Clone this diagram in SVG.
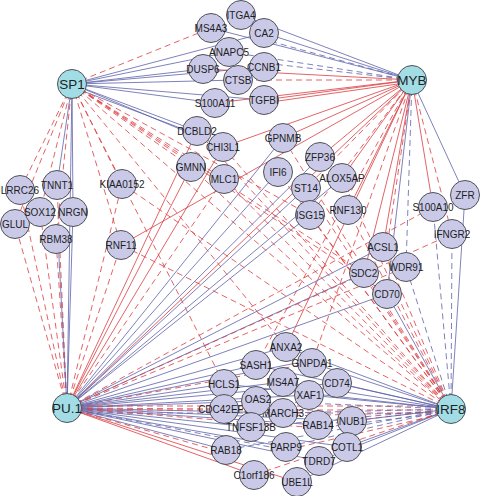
<svg xmlns="http://www.w3.org/2000/svg" width="480" height="496" viewBox="0 0 480 496">
<style>
.e line{stroke-width:0.8;fill:none}
.bs{stroke:#5d62aa}
.bd{stroke:#5d62aa;stroke-dasharray:6 4}
.rs{stroke:#db3c40}
.rd{stroke:#db3c40;stroke-dasharray:6 4}
.g circle{fill:#cacae8;stroke:#505058;stroke-width:1}
.t circle{fill:#a2dde6;stroke:#505058;stroke-width:1}
text{font-family:"Liberation Sans",Arial,sans-serif;text-anchor:middle;fill:#1e1e24}
.g text{font-size:10px}
.t text{font-size:13.5px}
</style>
<rect width="480" height="496" fill="#ffffff"/>
<g id="connectors" class="e">
<!-- SP1 -->
<line class="rd" x1="72" y1="84" x2="211" y2="28"/>
<line class="bs" x1="72" y1="84" x2="229" y2="52"/>
<line class="bs" x1="72" y1="84" x2="264" y2="33"/>
<line class="bs" x1="72" y1="84" x2="203" y2="69"/>
<line class="bs" x1="72" y1="84" x2="264" y2="67"/>
<line class="bs" x1="72" y1="84" x2="238" y2="80"/>
<line class="bs" x1="72" y1="84" x2="215" y2="103"/>
<line class="bs" x1="72" y1="84" x2="264" y2="100"/>
<line class="bs" x1="72" y1="84" x2="197" y2="131"/>
<line class="bs" x1="72" y1="87" x2="196" y2="134"/>
<line class="bs" x1="72" y1="84" x2="223" y2="147"/>
<line class="rd" x1="72" y1="84" x2="191" y2="167"/>
<line class="rd" x1="72" y1="84" x2="224" y2="179"/>
<line class="rd" x1="72" y1="84" x2="122" y2="184"/>
<line class="rd" x1="72" y1="84" x2="121" y2="245"/>
<line class="rd" x1="72" y1="84" x2="20" y2="190"/>
<line class="rd" x1="72" y1="84" x2="15" y2="224"/>
<line class="rd" x1="72" y1="84" x2="40" y2="212"/>
<line class="rd" x1="72" y1="84" x2="56" y2="239"/>
<line class="bs" x1="72" y1="84" x2="57" y2="185"/>
<line class="bs" x1="72" y1="84" x2="73" y2="212"/>
<line class="bs" x1="72" y1="84" x2="67" y2="408"/>
<line class="rd" x1="72" y1="84" x2="364" y2="273"/>
<line class="rd" x1="72" y1="84" x2="387" y2="294"/>
<line class="rd" x1="72" y1="84" x2="451" y2="409"/>
<line class="rd" x1="72" y1="84" x2="286" y2="347"/>
<line class="rd" x1="72" y1="84" x2="310" y2="215"/>
<line class="rd" x1="72" y1="84" x2="224" y2="384"/>
<!-- MYB -->
<line class="bs" x1="412" y1="80" x2="241" y2="15"/>
<line class="bs" x1="412" y1="80" x2="211" y2="28"/>
<line class="bs" x1="412" y1="80" x2="264" y2="33"/>
<line class="bd" x1="412" y1="80" x2="262" y2="39"/>
<line class="bd" x1="412" y1="80" x2="229" y2="52"/>
<line class="bd" x1="412" y1="80" x2="264" y2="63"/>
<line class="rs" x1="412" y1="80" x2="203" y2="69"/>
<line class="rd" x1="412" y1="80" x2="238" y2="80"/>
<line class="rs" x1="412" y1="80" x2="215" y2="103"/>
<line class="rs" x1="412" y1="80" x2="264" y2="100"/>
<line class="rs" x1="412" y1="82" x2="264" y2="103"/>
<line class="rs" x1="412" y1="80" x2="223" y2="147"/>
<line class="rs" x1="412" y1="80" x2="283" y2="138"/>
<line class="rs" x1="412" y1="80" x2="320" y2="157"/>
<line class="rd" x1="412" y1="80" x2="306" y2="188"/>
<line class="rs" x1="412" y1="80" x2="342" y2="178"/>
<line class="rs" x1="412" y1="80" x2="348" y2="210"/>
<line class="rd" x1="412" y1="80" x2="310" y2="215"/>
<line class="rs" x1="412" y1="80" x2="121" y2="245"/>
<line class="rs" x1="412" y1="80" x2="286" y2="347"/>
<line class="rs" x1="412" y1="80" x2="364" y2="273"/>
<line class="rs" x1="412" y1="80" x2="383" y2="247"/>
<line class="rd" x1="412" y1="80" x2="388" y2="240"/>
<line class="bd" x1="412" y1="80" x2="406" y2="267"/>
<line class="bs" x1="412" y1="80" x2="387" y2="294"/>
<line class="rs" x1="412" y1="80" x2="433" y2="207"/>
<line class="rd" x1="412" y1="80" x2="452" y2="234"/>
<line class="bs" x1="412" y1="80" x2="465" y2="195"/>
<line class="rs" x1="412" y1="80" x2="67" y2="408"/>
<line class="rd" x1="412" y1="80" x2="256" y2="365"/>
<line class="rd" x1="412" y1="80" x2="312" y2="363"/>
<!-- PU.1 -->
<line class="rd" x1="67" y1="408" x2="15" y2="224"/>
<line class="rd" x1="67" y1="408" x2="20" y2="190"/>
<line class="rd" x1="67" y1="408" x2="40" y2="212"/>
<line class="rd" x1="67" y1="408" x2="57" y2="185"/>
<line class="rd" x1="67" y1="408" x2="56" y2="239"/>
<line class="bs" x1="67" y1="408" x2="73" y2="212"/>
<line class="bs" x1="67" y1="408" x2="58" y2="239"/>
<line class="rd" x1="67" y1="408" x2="121" y2="245"/>
<line class="rd" x1="67" y1="408" x2="122" y2="184"/>
<line class="rd" x1="67" y1="408" x2="224" y2="179"/>
<line class="rs" x1="67" y1="408" x2="191" y2="167"/>
<line class="rs" x1="67" y1="408" x2="223" y2="147"/>
<line class="rs" x1="67" y1="408" x2="197" y2="131"/>
<line class="bs" x1="67" y1="408" x2="278" y2="172"/>
<line class="bs" x1="67" y1="408" x2="283" y2="138"/>
<line class="bs" x1="67" y1="408" x2="306" y2="188"/>
<line class="bs" x1="67" y1="408" x2="310" y2="215"/>
<line class="bs" x1="67" y1="408" x2="320" y2="157"/>
<line class="bs" x1="67" y1="408" x2="342" y2="178"/>
<line class="bs" x1="67" y1="408" x2="364" y2="273"/>
<line class="bs" x1="67" y1="408" x2="387" y2="294"/>
<line class="bs" x1="67" y1="408" x2="383" y2="247"/>
<line class="rd" x1="67" y1="408" x2="406" y2="267"/>
<line class="rd" x1="67" y1="408" x2="452" y2="234"/>
<line class="rd" x1="67" y1="408" x2="433" y2="207"/>
<line class="rd" x1="67" y1="408" x2="312" y2="363"/>
<line class="bs" x1="67" y1="408" x2="224" y2="384"/>
<line class="bs" x1="67" y1="408" x2="256" y2="365"/>
<line class="bs" x1="67" y1="408" x2="286" y2="347"/>
<line class="bs" x1="67" y1="408" x2="283" y2="382"/>
<line class="bs" x1="67" y1="408" x2="337" y2="383"/>
<line class="bs" x1="67" y1="408" x2="309" y2="395"/>
<line class="bs" x1="67" y1="408" x2="256" y2="401"/>
<line class="bs" x1="67" y1="408" x2="283" y2="413"/>
<line class="bs" x1="67" y1="408" x2="251" y2="427"/>
<line class="bs" x1="67" y1="408" x2="318" y2="425"/>
<line class="bs" x1="67" y1="408" x2="352" y2="421"/>
<line class="bs" x1="67" y1="408" x2="286" y2="447"/>
<line class="bs" x1="67" y1="408" x2="347" y2="447"/>
<line class="bs" x1="67" y1="408" x2="226" y2="450"/>
<line class="bs" x1="67" y1="408" x2="319" y2="461"/>
<line class="bs" x1="67" y1="408" x2="312" y2="360"/>
<line class="rd" x1="67" y1="408" x2="224" y2="409"/>
<line class="rd" x1="67" y1="406" x2="451" y2="406"/>
<line class="rd" x1="67" y1="410" x2="451" y2="410"/>
<line class="bd" x1="67" y1="413" x2="451" y2="413"/>
<line class="rd" x1="67" y1="408" x2="318" y2="428"/>
<line class="bd" x1="67" y1="408" x2="286" y2="450"/>
<line class="rd" x1="67" y1="408" x2="226" y2="453"/>
<line class="rs" x1="67" y1="408" x2="254" y2="475"/>
<line class="rs" x1="67" y1="408" x2="297" y2="482"/>
<!-- IRF8 -->
<line class="bs" x1="451" y1="409" x2="465" y2="195"/>
<line class="bd" x1="451" y1="409" x2="433" y2="207"/>
<line class="bd" x1="451" y1="409" x2="452" y2="234"/>
<line class="bs" x1="451" y1="409" x2="387" y2="294"/>
<line class="bd" x1="451" y1="409" x2="406" y2="267"/>
<line class="rd" x1="451" y1="409" x2="383" y2="247"/>
<line class="rd" x1="451" y1="409" x2="364" y2="273"/>
<line class="rd" x1="451" y1="409" x2="348" y2="210"/>
<line class="rd" x1="451" y1="409" x2="310" y2="215"/>
<line class="rd" x1="451" y1="409" x2="306" y2="188"/>
<line class="rd" x1="451" y1="409" x2="278" y2="172"/>
<line class="rd" x1="451" y1="409" x2="224" y2="179"/>
<line class="rd" x1="451" y1="409" x2="191" y2="167"/>
<line class="rd" x1="451" y1="409" x2="122" y2="184"/>
<line class="rd" x1="451" y1="409" x2="223" y2="147"/>
<line class="rd" x1="451" y1="409" x2="197" y2="131"/>
<line class="rd" x1="451" y1="409" x2="342" y2="178"/>
<line class="rd" x1="451" y1="409" x2="121" y2="245"/>
<line class="rd" x1="451" y1="409" x2="283" y2="138"/>
<line class="bs" x1="451" y1="409" x2="337" y2="383"/>
<line class="bs" x1="451" y1="409" x2="312" y2="363"/>
<line class="bs" x1="451" y1="409" x2="309" y2="395"/>
<line class="bs" x1="451" y1="409" x2="283" y2="382"/>
<line class="bs" x1="451" y1="409" x2="286" y2="347"/>
<line class="bs" x1="451" y1="409" x2="256" y2="365"/>
<line class="bs" x1="451" y1="409" x2="224" y2="384"/>
<line class="bd" x1="451" y1="409" x2="283" y2="413"/>
<line class="rd" x1="451" y1="412" x2="283" y2="416"/>
<line class="bd" x1="451" y1="409" x2="256" y2="401"/>
<line class="rd" x1="451" y1="409" x2="318" y2="425"/>
<line class="bd" x1="451" y1="412" x2="318" y2="428"/>
<line class="bd" x1="451" y1="409" x2="251" y2="427"/>
<line class="bs" x1="451" y1="409" x2="352" y2="421"/>
<line class="bs" x1="451" y1="409" x2="347" y2="447"/>
<line class="bs" x1="451" y1="409" x2="319" y2="461"/>
<line class="bd" x1="451" y1="409" x2="286" y2="447"/>
<line class="rd" x1="451" y1="412" x2="286" y2="450"/>
<line class="bd" x1="451" y1="409" x2="226" y2="450"/>
<line class="rd" x1="451" y1="409" x2="254" y2="475"/>
<line class="bs" x1="451" y1="409" x2="297" y2="482"/>
</g>
<g id="n-ITGA4" class="g"><circle cx="241" cy="15" r="14.5"/><text x="241" y="18.5">ITGA4</text></g>
<g id="n-MS4A3" class="g"><circle cx="211" cy="28" r="14.5"/><text x="211" y="31.5">MS4A3</text></g>
<g id="n-CA2" class="g"><circle cx="264" cy="33" r="14.5"/><text x="264" y="36.5">CA2</text></g>
<g id="n-ANAPC5" class="g"><circle cx="229" cy="52" r="14.5"/><text x="229" y="55.5">ANAPC5</text></g>
<g id="n-DUSP6" class="g"><circle cx="203" cy="69" r="14.5"/><text x="203" y="72.5">DUSP6</text></g>
<g id="n-CCNB1" class="g"><circle cx="264" cy="67" r="14.5"/><text x="264" y="70.5">CCNB1</text></g>
<g id="n-CTSB" class="g"><circle cx="238" cy="80" r="14.5"/><text x="238" y="83.5">CTSB</text></g>
<g id="n-S100A11" class="g"><circle cx="215" cy="103" r="14.5"/><text x="215" y="106.5">S100A11</text></g>
<g id="n-TGFBI" class="g"><circle cx="264" cy="100" r="14.5"/><text x="264" y="103.5">TGFBI</text></g>
<g id="n-DCBLD2" class="g"><circle cx="197" cy="131" r="14.5"/><text x="197" y="134.5">DCBLD2</text></g>
<g id="n-CHI3L1" class="g"><circle cx="223" cy="147" r="14.5"/><text x="223" y="150.5">CHI3L1</text></g>
<g id="n-GMNN" class="g"><circle cx="191" cy="167" r="14.5"/><text x="191" y="170.5">GMNN</text></g>
<g id="n-MLC1" class="g"><circle cx="224" cy="179" r="14.5"/><text x="224" y="182.5">MLC1</text></g>
<g id="n-GPNMB" class="g"><circle cx="283" cy="138" r="14.5"/><text x="283" y="141.5">GPNMB</text></g>
<g id="n-IFI6" class="g"><circle cx="278" cy="172" r="14.5"/><text x="278" y="175.5">IFI6</text></g>
<g id="n-ZFP36" class="g"><circle cx="320" cy="157" r="14.5"/><text x="320" y="160.5">ZFP36</text></g>
<g id="n-ALOX5AP" class="g"><circle cx="342" cy="178" r="14.5"/><text x="342" y="181.5">ALOX5AP</text></g>
<g id="n-ST14" class="g"><circle cx="306" cy="188" r="14.5"/><text x="306" y="191.5">ST14</text></g>
<g id="n-RNF130" class="g"><circle cx="348" cy="210" r="14.5"/><text x="348" y="213.5">RNF130</text></g>
<g id="n-ISG15" class="g"><circle cx="310" cy="215" r="14.5"/><text x="310" y="218.5">ISG15</text></g>
<g id="n-LRRC26" class="g"><circle cx="20" cy="190" r="14.5"/><text x="20" y="193.5">LRRC26</text></g>
<g id="n-TNNT1" class="g"><circle cx="57" cy="185" r="14.5"/><text x="57" y="188.5">TNNT1</text></g>
<g id="n-GLUL" class="g"><circle cx="15" cy="224" r="14.5"/><text x="15" y="227.5">GLUL</text></g>
<g id="n-SOX12" class="g"><circle cx="40" cy="212" r="14.5"/><text x="40" y="215.5">SOX12</text></g>
<g id="n-NRGN" class="g"><circle cx="73" cy="212" r="14.5"/><text x="73" y="215.5">NRGN</text></g>
<g id="n-RBM38" class="g"><circle cx="56" cy="239" r="14.5"/><text x="56" y="242.5">RBM38</text></g>
<g id="n-KIAA0152" class="g"><circle cx="122" cy="184" r="14.5"/><text x="122" y="187.5">KIAA0152</text></g>
<g id="n-RNF11" class="g"><circle cx="121" cy="245" r="14.5"/><text x="121" y="248.5">RNF11</text></g>
<g id="n-ZFR" class="g"><circle cx="465" cy="195" r="14.5"/><text x="465" y="198.5">ZFR</text></g>
<g id="n-S100A10" class="g"><circle cx="433" cy="207" r="14.5"/><text x="433" y="210.5">S100A10</text></g>
<g id="n-IFNGR2" class="g"><circle cx="452" cy="234" r="14.5"/><text x="452" y="237.5">IFNGR2</text></g>
<g id="n-ACSL1" class="g"><circle cx="383" cy="247" r="14.5"/><text x="383" y="250.5">ACSL1</text></g>
<g id="n-WDR91" class="g"><circle cx="406" cy="267" r="14.5"/><text x="406" y="270.5">WDR91</text></g>
<g id="n-SDC2" class="g"><circle cx="364" cy="273" r="14.5"/><text x="364" y="276.5">SDC2</text></g>
<g id="n-CD70" class="g"><circle cx="387" cy="294" r="14.5"/><text x="387" y="297.5">CD70</text></g>
<g id="n-ANXA2" class="g"><circle cx="286" cy="347" r="14.5"/><text x="286" y="350.5">ANXA2</text></g>
<g id="n-SASH1" class="g"><circle cx="256" cy="365" r="14.5"/><text x="256" y="368.5">SASH1</text></g>
<g id="n-GNPDA1" class="g"><circle cx="312" cy="363" r="14.5"/><text x="312" y="366.5">GNPDA1</text></g>
<g id="n-CD74" class="g"><circle cx="337" cy="383" r="14.5"/><text x="337" y="386.5">CD74</text></g>
<g id="n-MS4A7" class="g"><circle cx="283" cy="382" r="14.5"/><text x="283" y="385.5">MS4A7</text></g>
<g id="n-HCLS1" class="g"><circle cx="224" cy="384" r="14.5"/><text x="224" y="387.5">HCLS1</text></g>
<g id="n-XAF1" class="g"><circle cx="309" cy="395" r="14.5"/><text x="309" y="398.5">XAF1</text></g>
<g id="n-CDC42EP3" class="g"><circle cx="224" cy="409" r="14.5"/><text x="224" y="413">CDC42EP3</text></g>
<g id="n-MARCH3" class="g"><circle cx="283" cy="413" r="14.5"/><text x="283" y="416.5">MARCH3</text></g>
<g id="n-OAS2" class="g"><circle cx="256" cy="401" r="14.5"/><text x="258" y="403">OAS2</text></g>
<g id="n-TNFSF13B" class="g"><circle cx="251" cy="427" r="14.5"/><text x="251" y="430.5">TNFSF13B</text></g>
<g id="n-RAB14" class="g"><circle cx="318" cy="425" r="14.5"/><text x="318" y="428.5">RAB14</text></g>
<g id="n-NUB1" class="g"><circle cx="352" cy="421" r="14.5"/><text x="352" y="424.5">NUB1</text></g>
<g id="n-PARP9" class="g"><circle cx="286" cy="447" r="14.5"/><text x="286" y="450.5">PARP9</text></g>
<g id="n-COTL1" class="g"><circle cx="347" cy="447" r="14.5"/><text x="347" y="450.5">COTL1</text></g>
<g id="n-RAB18" class="g"><circle cx="226" cy="450" r="14.5"/><text x="226" y="453.5">RAB18</text></g>
<g id="n-TDRD7" class="g"><circle cx="319" cy="461" r="14.5"/><text x="319" y="464.5">TDRD7</text></g>
<g id="n-C1orf186" class="g"><circle cx="254" cy="475" r="14.5"/><text x="254" y="478.5">C1orf186</text></g>
<g id="n-UBE1L" class="g"><circle cx="297" cy="482" r="14.5"/><text x="297" y="485.5">UBE1L</text></g>
<g id="n-SP1" class="t"><circle cx="72" cy="84" r="14.5"/><text x="72" y="89">SP1</text></g>
<g id="n-MYB" class="t"><circle cx="412" cy="80" r="14.5"/><text x="412" y="85">MYB</text></g>
<g id="n-PU1" class="t"><circle cx="67" cy="408" r="14.5"/><text x="67" y="413">PU.1</text></g>
<g id="n-IRF8" class="t"><circle cx="451" cy="409" r="14.5"/><text x="451" y="414">IRF8</text></g>
</svg>
